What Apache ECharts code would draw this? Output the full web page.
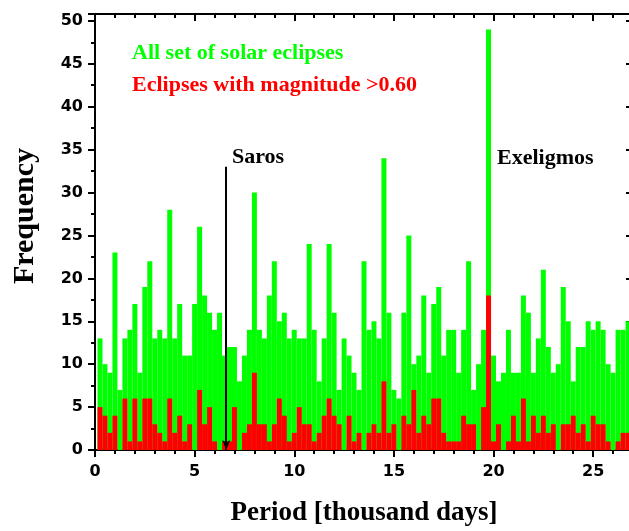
<!DOCTYPE html>
<html><head><meta charset="utf-8">
<script src="https://cdn.jsdelivr.net/npm/echarts@6/dist/echarts.min.js"></script>
<style>html,body{margin:0;padding:0;background:#fff}#c{width:629px;height:531px}</style>
</head><body><div id="c"></div>
<script>
// Period bin centres (thousand days)
const periods = [0.25,0.5,0.75,1,1.25,1.5,1.75,2,2.25,2.5,2.75,3,3.25,3.5,3.75,4,4.25,4.5,4.75,5,
5.25,5.5,5.75,6,6.25,6.5,6.75,7,7.25,7.5,7.75,8,8.25,8.5,8.75,9,9.25,9.5,9.75,10,
10.25,10.5,10.75,11,11.25,11.5,11.75,12,12.25,12.5,12.75,13,13.25,13.5,13.75,14,14.25,14.5,14.75,15,
15.25,15.5,15.75,16,16.25,16.5,16.75,17,17.25,17.5,17.75,18,18.25,18.5,18.75,19,19.25,19.5,19.75,20,
20.25,20.5,20.75,21,21.25,21.5,21.75,22,22.25,22.5,22.75,23,23.25,23.5,23.75,24,24.25,24.5,24.75,25,
25.25,25.5,25.75,26,26.25,26.5,26.75];
// All set of solar eclipses
const allEclipses = [13,10,9,23,7,13,14,17,9,19, 22,13,14,13,28,13,17,11,11,17,
26,18,16,14,16,11,12,12,8,11, 14,30,14,13,18,22,15,16,13,14,
13,13,24,14,8,13,24,16,7,13, 11,9,7,22,14,15,13,34,16,7,
6,16,25,10,11,18,9,17,19,11, 14,14,9,14,22,7,10,14,49,11,
8,9,14,9,9,18,16,9,13,21, 12,9,10,19,15,8,12,12,15,14,
15,14,10,9,14,14,15];
// Eclipses with magnitude > 0.60
const bigEclipses = [5,4,2,4,0,6,1,6,1,6, 6,3,2,1,6,2,4,1,3,0,
7,3,5,1,0,1,1,5,0,2, 3,9,3,3,1,3,6,4,1,2,
5,3,3,1,2,4,6,4,3,0, 4,1,2,0,2,3,2,8,2,3,
0,4,3,7,2,4,3,6,6,2, 1,1,1,4,3,3,0,5,18,1,
3,0,1,4,1,6,1,4,2,4, 2,3,0,3,3,4,2,3,1,4,
3,3,1,0,1,2,2];
const xTicks = [0,5,10,15,20,25];
const yTicks = [0,5,10,15,20,25,30,35,40,45,50];
const sarosPeriod = 6.585; // thousand days
const sarosArrowTop = 33;

const chart = echarts.init(document.getElementById('c'), null, {renderer:'canvas'});
const tickFont = {fontFamily:'DejaVu Sans', fontWeight:'bold', fontSize:16, color:'#000'};
const serif = 'Liberation Serif';
const black = '#000';
function xAxisBase(pos, inside, labels){
  return {type:'value', position:pos, min:0, max:27, interval:5,
    axisLine:{show:true, onZero:false, lineStyle:{color:black, width:2}},
    axisTick:{show:true, inside:inside, length:7, lineStyle:{color:black, width:2}},
    minorTick:{show:true, splitNumber:5, length:4, lineStyle:{color:black, width:2}},
    splitLine:{show:false}, minorSplitLine:{show:false},
    axisLabel:{show:labels, margin:14, ...tickFont,
      formatter:v=> xTicks.includes(v)? String(v):''}};
}
function yAxisBase(pos, inside, labels){
  return {type:'value', position:pos, min:0, max:50.8, interval:5,
    axisLine:{show:true, onZero:false, lineStyle:{color:black, width:2}},
    axisTick:{show:true, inside:inside, length:7, lineStyle:{color:black, width:2}},
    minorTick:{show:true, splitNumber:2, length:4, lineStyle:{color:black, width:2}},
    splitLine:{show:false}, minorSplitLine:{show:false},
    axisLabel:{show:labels, margin:12, showMaxLabel:false, ...tickFont,
      formatter:v=> yTicks.includes(v)? String(v):''}};
}
const xa = xAxisBase('bottom', false, true);
xa.name = 'Period [thousand days]';
xa.nameLocation = 'middle';
xa.nameGap = 50;
xa.nameTextStyle = {fontFamily:serif, fontWeight:'bold', fontSize:27, color:black};
const xb = xAxisBase('top', true, false);
const ya = yAxisBase('left', false, true);
const yb = yAxisBase('right', true, false);

const greenData = periods.map((p,i)=>[p, allEclipses[i]]);
const redData = periods.map((p,i)=>[p, bigEclipses[i]]);

chart.setOption({
  animation:false,
  backgroundColor:'#fff',
  grid:{left:95, top:14, right:-4, bottom:81, containLabel:false, outerBoundsMode:'none'},
  xAxis:[xa, xb],
  yAxis:[ya, yb],
  legend:{show:true, orient:'vertical', left:122, top:37, itemWidth:0, itemHeight:0, itemGap:10,
    selectedMode:false,
    textStyle:{fontFamily:serif, fontWeight:'bold', fontSize:22},
    data:[{name:'All set of solar eclipses', icon:'rect', textStyle:{color:'#00ff00'}},
          {name:'Eclipses with magnitude >0.60', icon:'rect', textStyle:{color:'#ff0000'}}]},
  series:[
    {name:'All set of solar eclipses', type:'bar', data:greenData, xAxisIndex:0, yAxisIndex:0,
     barWidth:'100%', barGap:'-100%', itemStyle:{color:'#00ff00'},
     markLine:{silent:true, symbol:['none','arrow'], symbolSize:[6,10], precision:3,
       lineStyle:{color:black, width:2, type:'solid'}, label:{show:false},
       data:[[{coord:[sarosPeriod, sarosArrowTop]},{coord:[sarosPeriod, 0]}]]}},
    {name:'Eclipses with magnitude >0.60', type:'bar', data:redData, xAxisIndex:0, yAxisIndex:0,
     barWidth:'100%', barGap:'-100%', itemStyle:{color:'#ff0000'}}
  ],
  graphic:[
    {type:'text', x:25, y:216, rotation:Math.PI/2,
     style:{text:'Frequency', fontFamily:serif, fontWeight:'bold', fontSize:30, fill:black, align:'center', verticalAlign:'middle'}},
    {type:'text', x:232, y:157,
     style:{text:'Saros', fontFamily:serif, fontWeight:'bold', fontSize:22, fill:black, align:'left', verticalAlign:'middle'}},
    {type:'text', x:497, y:158,
     style:{text:'Exeligmos', fontFamily:serif, fontWeight:'bold', fontSize:22, fill:black, align:'left', verticalAlign:'middle'}}
  ]
});
</script></body></html>
